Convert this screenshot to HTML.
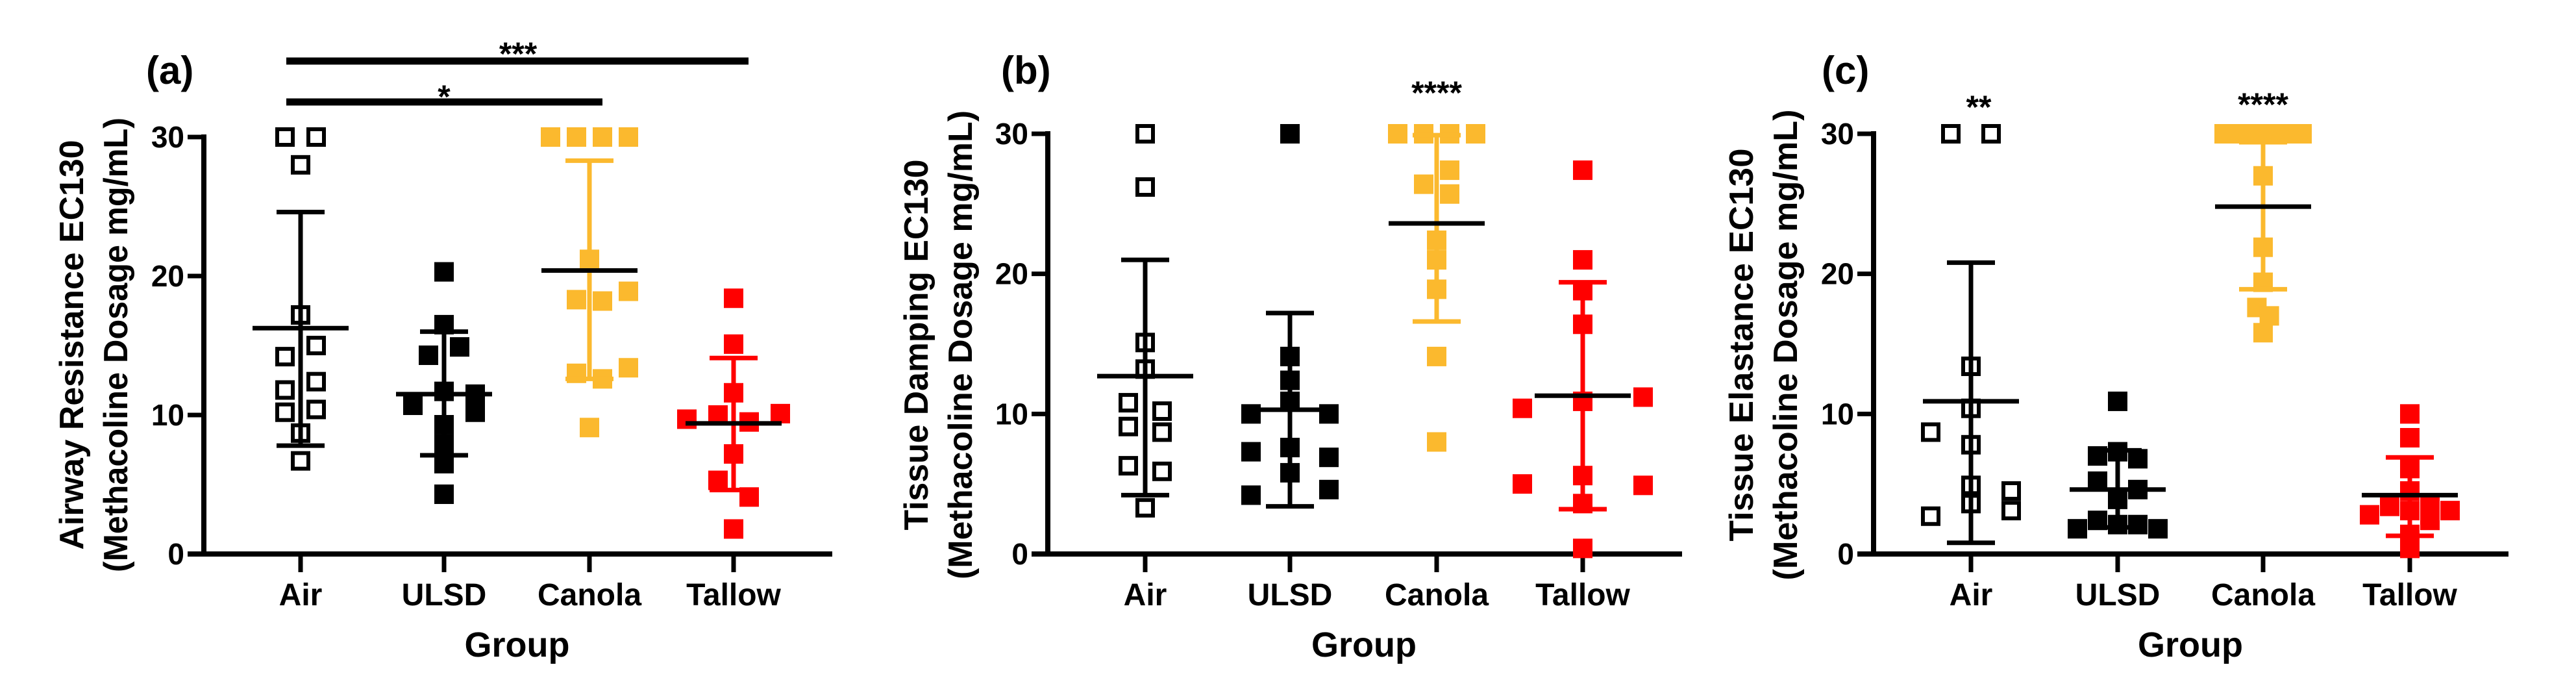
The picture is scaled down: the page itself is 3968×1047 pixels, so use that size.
<!DOCTYPE html>
<html><head><meta charset="utf-8"><style>
html,body{margin:0;padding:0;background:#fff}
svg{display:block}
text{font-family:"Liberation Sans",Arial,sans-serif;font-weight:bold;fill:#000}
</style></head><body>
<svg id="fig" width="3968" height="1047" viewBox="0 0 3968 1047" xmlns="http://www.w3.org/2000/svg"></svg>
<script>
const categories = ["Air","ULSD","Canola","Tallow"];
const yTicks = [0,10,20,30];
const colors = ["#000","#000","#FBB92E","#FF0000"];
// panel a values
const aAir = [30,30,28,17.2,15,14.2,12.4,11.8,10.2,10.4,8.7,6.7];
const aAirJ = [-1,1,0,0,1,-1,1,-1,-1,1,0,0];
const aUlsd = [20.3,16.5,14.3,14.9,11.7,11.5,10.7,10.2,9.3,7.9,6.5,4.3];
const aUlsdJ = [0,0,-1,1,0,2,-2,2,0,0,0,0];
const aCanola = [30,30,30,30,21.2,18.3,18.2,18.9,13,12.6,13.4,9.1];
const aCanolaJ = [-3,-1,1,3,0,-1,1,3,-1,1,3,0];
const aTallow = [18.4,15.1,11.6,9.7,10,9.5,10.1,7.2,5.3,4.1,1.8];
const aTallowJ = [0,0,0,-3,-1,1,3,0,-1,1,0];
const aMean = [16.25,11.5,20.4,9.4];
const aSdHi = [24.6,16,28.3,14.1];
const aSdLo = [7.8,7.1,12.6,4.6];
// panel b values
const bAir = [30,26.2,15.1,13.2,10.8,10.2,9.1,8.7,6.3,5.9,3.3];
const bAirJ = [0,0,0,0,-1,1,-1,1,-1,1,0];
const bUlsd = [30,14.1,12.4,10.9,10,10,7.3,7.6,6.9,5.8,4.2,4.6];
const bUlsdJ = [0,0,0,0,-2,2,-2,0,2,0,-2,2];
const bCanola = [30,30,30,30,27.4,26.4,25.7,22.4,21,18.9,14.1,8];
const bCanolaJ = [-3,-1,1,3,1,-1,1,0,0,0,0,0];
const bTallow = [27.4,21,18.8,16.4,10.4,10.9,11.2,5,5.6,4.9,3.6,0.4];
const bTallowJ = [0,0,0,0,-3,0,3,-3,0,3,0,0];
const bMean = [12.7,10.3,23.6,11.3];
const bSdHi = [21,17.2,29.9,19.4];
const bSdLo = [4.2,3.4,16.6,3.2];
// panel c values
const cAir = [30,30,13.4,10.4,8.7,7.8,4.9,4.5,3.6,3.1,2.7];
const cAirJ = [-1,1,0,0,-2,0,0,2,0,2,-2];
const cUlsd = [10.9,7,7.3,6.8,5.2,4.6,3.9,1.8,2.4,2.1,2.1,1.8];
const cUlsdJ = [0,-1,0,1,-1,1,0,-2,-1,0,1,2];
const cCanola = [30,30,30,30,30,30,27,21.9,19.4,17.6,17,15.8];
const cCanolaJ = [-2.5,-1.5,-0.5,0.5,1.5,2.5,0,0,0,-0.4,0.4,0];
const cTallow = [10,8.3,6.1,4.5,3.4,2.8,3.1,3.6,2.4,3.1,1.4,0.4];
const cTallowJ = [0,0,0,0,-1,-2,0,1,1,2,0,0];
const cMean = [10.9,4.6,24.8,4.2];
const cSdHi = [20.8,7.4,29.4,6.9];
const cSdLo = [0.8,1.9,18.9,1.3];

const panels = [
 {id:"a", axisX:314, xEnd:1282, cat:[463,684,908,1130], jit:[24,24,20,24], y30:211, letterX:225,
  t1:"Airway Resistance EC130", t1x:110, t1len:631, t2x:178, t2len:700,
  groups:[aAir,aUlsd,aCanola,aTallow], jits:[aAirJ,aUlsdJ,aCanolaJ,aTallowJ], mean:aMean, hi:aSdHi, lo:aSdLo},
 {id:"b", axisX:1614, xEnd:2591, cat:[1764,1987,2213,2438], jit:[26,30,20,31], y30:206, letterX:1542,
  t1:"Tissue Damping EC130", t1x:1411, t1len:571, t2x:1479, t2len:722,
  groups:[bAir,bUlsd,bCanola,bTallow], jits:[bAirJ,bUlsdJ,bCanolaJ,bTallowJ], mean:bMean, hi:bSdHi, lo:bSdLo},
 {id:"c", axisX:2886, xEnd:3864, cat:[3036,3262,3486,3712], jit:[31,31,24,31], y30:206, letterX:2806,
  t1:"Tissue Elastance EC130", t1x:2682, t1len:605, t2x:2750, t2len:725,
  groups:[cAir,cUlsd,cCanola,cTallow], jits:[cAirJ,cUlsdJ,cCanolaJ,cTallowJ], mean:cMean, hi:cSdHi, lo:cSdLo}
];
const svg = document.getElementById('fig');
const NS = "http://www.w3.org/2000/svg";
function mk(tag, attrs, parent){ const e=document.createElementNS(NS,tag); for(const k in attrs) e.setAttribute(k,attrs[k]); (parent||svg).appendChild(e); return e; }
const X0 = 853;
panels.forEach(p=>{
  const yScale = v => X0 - v*(X0-p.y30)/30;
  const g = mk('g',{});
  
  
  const lt = mk('text',{x:p.letterX,y:129,'font-size':60},g); lt.textContent='('+p.id+')';
  
  
  const ya = mk('line',{x1:p.axisX,y1:yScale(30)-4,x2:p.axisX,y2:X0+4,stroke:'#000','stroke-width':8},g);
  
  
  const xa = mk('line',{x1:p.axisX-25,y1:X0,x2:p.xEnd,y2:X0,stroke:'#000','stroke-width':8},g);
  
  
  yTicks.forEach(t=>{
    const y=yScale(t);
    mk('line',{x1:p.axisX-25,y1:y,x2:p.axisX,y2:y,stroke:'#000','stroke-width':7},g);
    const tl = mk('text',{x:p.axisX-30,y:y+16,'font-size':46,'text-anchor':'end'},g); tl.textContent=t;
    
    
  });
  categories.forEach((c,i)=>{
    mk('line',{x1:p.cat[i],y1:X0,x2:p.cat[i],y2:X0+28,stroke:'#000','stroke-width':7},g);
    const cl = mk('text',{x:p.cat[i],y:932,'font-size':48,'text-anchor':'middle'},g); cl.textContent=c;
    
    
  });
  const gx = mk('text',{x:(p.cat[0]+p.cat[3])/2,y:1011,'font-size':54,'text-anchor':'middle'},g); gx.textContent='Group';
  
  
  const t1 = mk('text',{x:0,y:0,'font-size':52,'text-anchor':'middle',textLength:p.t1len,lengthAdjust:'spacingAndGlyphs',transform:`translate(${p.t1x+18},531) rotate(-90)`},g); t1.textContent=p.t1;
  
  
  const t2 = mk('text',{x:0,y:0,'font-size':52,'text-anchor':'middle',textLength:p.t2len,lengthAdjust:'spacingAndGlyphs',transform:`translate(${p.t2x+18},531) rotate(-90)`},g); t2.textContent='(Methacoline Dosage mg/mL)';
  
  
  p.groups.forEach((vals,gi)=>{
    vals.forEach((v,k)=>{
      const cx = p.cat[gi] + p.jits[gi][k]*p.jit[gi];
      const cy = yScale(v);
      let r;
      if(gi===0) r = mk('rect',{x:cx-12,y:cy-12,width:24,height:24,fill:'#fff',stroke:'#000','stroke-width':6},g);
      else r = mk('rect',{x:cx-15,y:cy-15,width:30,height:30,fill:colors[gi]},g);
      
      
    });
  });
  p.groups.forEach((vals,gi)=>{
    const cx=p.cat[gi], col=colors[gi];
    const eb = mk('line',{x1:cx,y1:yScale(p.hi[gi]),x2:cx,y2:yScale(p.lo[gi]),stroke:col,'stroke-width':7},g);
    
    
    [p.hi[gi],p.lo[gi]].forEach(v=>{
      const cap = mk('line',{x1:cx-37,y1:yScale(v),x2:cx+37,y2:yScale(v),stroke:col,'stroke-width':7},g);
      
      
    });
    const m = mk('line',{x1:cx-74,y1:yScale(p.mean[gi]),x2:cx+74,y2:yScale(p.mean[gi]),stroke:'#000','stroke-width':7},g);
    
    
  });
});
function sig(txt,x,y,name){ const t=mk('text',{x:x,y:y,'font-size':50,'text-anchor':'middle'}); t.textContent=txt;
  
   }
function bar(x1,x2,y,name){ const l=mk('line',{x1:x1,y1:y,x2:x2,y2:y,stroke:'#000','stroke-width':11});
  
   }
bar(441,1153,94,'significance-bar-air-tallow'); sig('***',798,100,'significance-air-tallow');
bar(441,928,157,'significance-bar-air-canola'); sig('*',684,166,'significance-air-canola');
sig('****',2213,160,'significance-b-canola');
sig('**',3048,182,'significance-c-air');
sig('****',3486,178,'significance-c-canola');
</script>
</body></html>
